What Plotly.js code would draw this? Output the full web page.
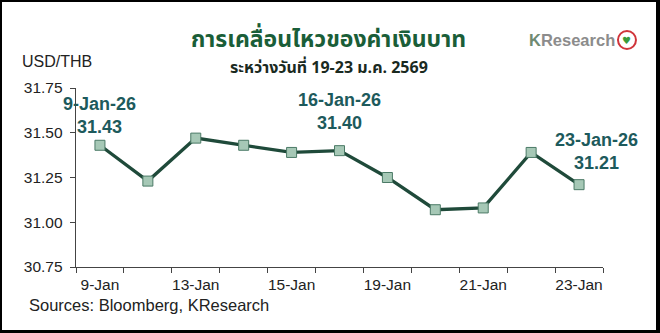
<!DOCTYPE html>
<html><head><meta charset="utf-8">
<script src="https://cdn.plot.ly/plotly-3.0.1.min.js"></script>
<style>
html,body{margin:0;padding:0;background:#000;}
#wrap{position:absolute;left:0;top:0;width:660px;height:333px;background:#000;}
#chart{position:absolute;left:2px;top:2px;width:654px;height:328px;background:#fff;overflow:hidden;}
#plot{position:absolute;left:-2px;top:-2px;width:660px;height:333px;}
</style></head>
<body><div id="wrap"><div id="chart"><div id="plot"></div></div></div>
<script>
const dates = ["9-Jan","12-Jan","13-Jan","14-Jan","15-Jan","16-Jan","19-Jan","20-Jan","21-Jan","22-Jan","23-Jan"];
const rates = [31.43, 31.23, 31.47, 31.43, 31.39, 31.40, 31.25, 31.07, 31.08, 31.39, 31.21];
const tickLabels = ["9-Jan","","13-Jan","","15-Jan","","19-Jan","","21-Jan","","23-Jan"];
const yTicks = [30.75, 31.00, 31.25, 31.50, 31.75];
const callouts = [
  {i:0, text:"9-Jan-26<br>31.43"},
  {i:5, text:"16-Jan-26<br>31.40"},
  {i:10, text:"23-Jan-26<br>31.21"}
];
const titleText = "การเคลื่อนไหวของค่าเงินบาท";
const subText = "ระหว่างวันที่ 19-23 ม.ค. 2569";
const thai = "'Noto Sans Thai','Noto Sans Thai UI','Noto Sans','DejaVu Sans',sans-serif";
const arial = "'Liberation Sans', Arial, sans-serif";

const trace = {
  x: dates, y: rates, type: "scatter", mode: "lines+markers",
  line: {color: "#1f4a3a", width: 3.3},
  marker: {symbol: "square", size: 10, color: "#a6c8b6", line: {color: "#4b7a66", width: 1}},
  cliponaxis: false, hoverinfo: "none"
};

const annShift = [{dx:0, dy:6}, {dx:0, dy:16}, {dx:17, dy:10}];
const annotations = callouts.map((c, k) => ({
  x: dates[c.i], y: rates[c.i], xref: "x", yref: "y",
  text: c.text, showarrow: false, xshift: annShift[k].dx, yshift: annShift[k].dy,
  xanchor: "center", yanchor: "bottom",
  font: {family: arial, size: 18, color: "#1d5a5c", weight: "bold"}, align: "center"
}));

const layout = {
  width: 660, height: 333,
  margin: {l: 76, r: 57, t: 88, b: 66},
  paper_bgcolor: "#fff", plot_bgcolor: "#fff",
  showlegend: false,
  xaxis: {
    type: "category", categoryarray: dates, range: [-0.5, 10.5], autorange: false,
    tickmode: "array", tickvals: dates, ticktext: tickLabels, tickangle: 0,
    tickson: "boundaries", ticks: "outside", ticklen: 5, tickcolor: "#444", ticklabelstandoff: 3,
    showline: true, linecolor: "#444", linewidth: 1.3, showgrid: false, zeroline: false,
    tickfont: {family: arial, size: 15.5, color: "#222"}
  },
  yaxis: {
    range: [30.75, 31.75], autorange: false, tickmode: "array", tickvals: yTicks, ticktext: yTicks.map(v => v.toFixed(2)),
    ticks: "outside", ticklen: 5, tickcolor: "#444", ticklabelstandoff: 4,
    showline: true, linecolor: "#444", linewidth: 1.3, showgrid: false, zeroline: false,
    tickfont: {family: arial, size: 15.5, color: "#222"}
  },
  shapes: [
    {type: "circle", xref: "paper", yref: "paper", xsizemode: "pixel", ysizemode: "pixel",
     xanchor: 1.0455, yanchor: 1.268, x0: -9, x1: 9, y0: -9, y1: 9,
     line: {color: "#d0343a", width: 2}, fillcolor: "#fff"}
  ],
  annotations: annotations.concat([
    {xref:"paper", yref:"paper", x:0.48, y:1, yshift: 48, xanchor:"center", yanchor:"middle", showarrow:false,
     text: "<b>" + titleText + "</b>", font: {family: thai, size: 23, color: "#1a5e38"}},
    {xref:"paper", yref:"paper", x:0.48, y:1, yshift: 20, xanchor:"center", yanchor:"middle", showarrow:false,
     text: "<b>" + subText + "</b>", font: {family: thai, size: 16, color: "#1a2a1f"}},
    {xref:"paper", yref:"paper", x:-0.107, y:1, yshift: 27, xanchor:"left", yanchor:"middle", showarrow:false,
     text: "USD/THB", font: {family: arial, size: 16, color: "#222"}},
    {xref:"paper", yref:"paper", x:-0.093, y:0, yshift: -38, xanchor:"left", yanchor:"middle", showarrow:false,
     text: "Sources: Bloomberg, KResearch", font: {family: arial, size: 16.5, color: "#222"}},
    {xref:"paper", yref:"paper", x:1.0275, y:1.268, xanchor:"right", yanchor:"middle", showarrow:false,
     text: "<b><span style='color:#6f8a72'>K</span>Research</b>", font: {family: arial, size: 16.5, color: "#8c8c8c"}},
    {xref:"paper", yref:"paper", x:1.0455, y:1.268, xanchor:"center", yanchor:"middle", showarrow:false,
     text: "♥", font: {family: "'DejaVu Sans'", size: 10, color: "#3a9a3a"}}
  ])
};
Plotly.newPlot("plot", [trace], layout, {displayModeBar: false, staticPlot: true});
</script></body></html>
